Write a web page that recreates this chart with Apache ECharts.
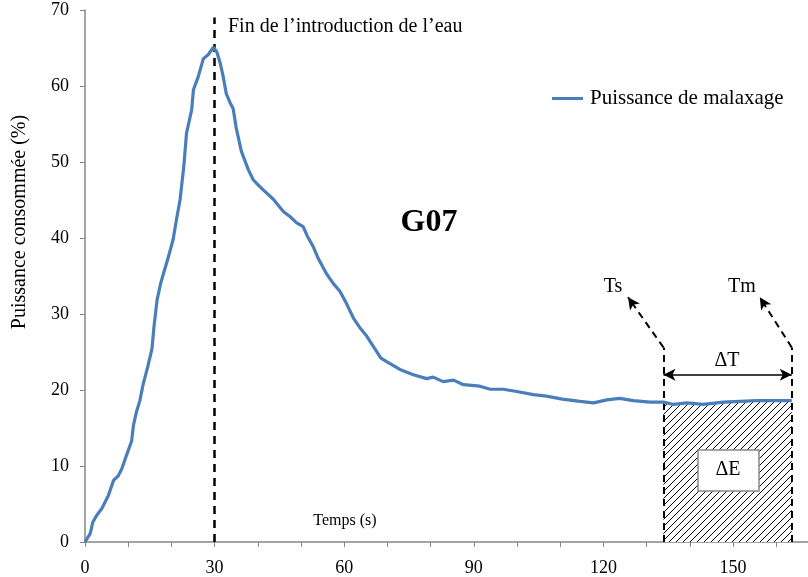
<!DOCTYPE html>
<html>
<head>
<meta charset="utf-8">
<script src="https://cdn.jsdelivr.net/npm/echarts@6/dist/echarts.min.js"></script>
<style>html,body{margin:0;padding:0;background:#fff}#c{width:808px;height:577px}</style>
</head>
<body>
<div id="c"></div>
<script>
// Time (s)
const timeS = [0,1.2,1.8,2.7,3.9,5.4,6.6,7.7,8.5,9.6,10.8,11.2,11.9,12.7,13.4,14.5,15.5,16,16.7,17.5,18.1,19.2,20.4,21.2,22,22.9,23.5,24.7,25.1,26.2,27.4,28.5,29.7,30.5,31.3,32,32.7,33.5,34.3,35,36.2,37.8,38.9,39.7,41.5,43.6,45.9,47.5,49,50.5,51.5,52.8,54,55.9,57.5,59,60.5,62.1,63.5,65.2,67,68.5,70.2,72.9,76,79.1,80.6,82.9,85.3,87.6,91.4,93.8,96.8,99.9,103.8,106.8,110.5,114.6,117.7,120.8,123.8,126.9,130.8,133.9,136.2,139.3,143.1,147.8,151.6,155.5,159.3,163.6];
// Power (%)
const powerPct = [0,1.1,2.6,3.5,4.4,6.1,8.1,8.7,9.6,11.4,13.3,15.3,17.1,18.6,20.6,23,25.4,28.5,31.9,34,35.2,37.3,39.8,42.5,45,49.6,53.8,56.9,59.5,61.2,63.6,64.1,65.1,64.5,63,61.2,59,57.9,57,54.5,51.4,49,47.7,47.2,46.2,45.1,43.5,42.8,42,41.5,40.2,38.9,37.3,35.3,34,33,31.4,29.5,28.3,27.1,25.5,24.2,23.6,22.7,22,21.5,21.7,21.1,21.3,20.7,20.5,20.1,20.1,19.8,19.4,19.2,18.8,18.5,18.3,18.7,18.9,18.6,18.4,18.4,18.1,18.3,18.1,18.4,18.5,18.6,18.6,18.6];
const xTicks = [0,30,60,90,120,150];
const yTicks = [0,10,20,30,40,50,60,70];
const waterEndT = 30;
const tsT = 133.9;
const tmT = 163.6;
const annotTopV = 25.6;
const arrowTipV = 32.2;
const tsTipT = 125.7;
const tmTipT = 156.2;
const dTv = 22.0;

const mainData = timeS.map((t,i)=>[t,powerPct[i]]);
const hatchData = mainData.filter(p=>p[0]>=tsT-0.01);

// hatch pattern
const pc = document.createElement('canvas');
pc.width = 7; pc.height = 7;
const g = pc.getContext('2d');
g.fillStyle = '#fff'; g.fillRect(0,0,7,7);
g.strokeStyle = '#000'; g.lineWidth = 1;
g.beginPath();
g.moveTo(0,7); g.lineTo(7,0);
g.moveTo(-1,1); g.lineTo(1,-1);
g.moveTo(6,8); g.lineTo(8,6);
g.stroke();

const F = '"Liberation Serif","Times New Roman",serif';
const chart = echarts.init(document.getElementById('c'));
chart.setOption({
  animation:false,
  backgroundColor:'#fff',
  grid:{left:85,right:0,top:10,bottom:34,containLabel:false},
  xAxis:{type:'value',min:0,max:167.36,interval:10,
    axisLine:{lineStyle:{color:'#868686',width:1.5}},
    axisTick:{length:5,lineStyle:{color:'#868686'}},
    splitLine:{show:false},
    axisLabel:{fontFamily:F,fontSize:18,color:'#000',margin:17,showMaxLabel:false,
      formatter:v=>xTicks.includes(v)?String(v):''}},
  yAxis:{type:'value',min:0,max:70,interval:10,
    axisLine:{show:true,lineStyle:{color:'#868686',width:1.5}},
    axisTick:{show:true,length:5,lineStyle:{color:'#868686'}},
    splitLine:{show:false},
    axisLabel:{fontFamily:F,fontSize:18,color:'#000',margin:16,
      formatter:v=>yTicks.includes(v)?String(v):''}},
  legend:{show:true,left:547,top:83,itemWidth:31,itemHeight:3,icon:'rect',itemGap:6,
    data:['Puissance de malaxage'],
    textStyle:{fontFamily:F,fontSize:21,color:'#000',padding:[0,0,0,2]}},
  series:[
    {name:'hatch',type:'line',data:hatchData,symbol:'none',z:1,
      lineStyle:{width:0},
      areaStyle:{color:{image:pc,repeat:'repeat'},opacity:1},
      markLine:{silent:true,symbol:'none',label:{show:false},
        lineStyle:{color:'#000',type:[7,5],width:2},
        data:[
          [{coord:[tsT,0]},{coord:[tsT,annotTopV]}],
          [{coord:[tmT,0]},{coord:[tmT,annotTopV]}],
          [{coord:[tsT,annotTopV],symbol:'none'},{coord:[tsTipT,arrowTipV],symbol:'arrow',symbolSize:[9,12]}],
          [{coord:[tmT,annotTopV],symbol:'none'},{coord:[tmTipT,arrowTipV],symbol:'arrow',symbolSize:[9,12]}],
          [{coord:[tsT,dTv],symbol:'arrow',symbolSize:[9,12],lineStyle:{type:'solid',width:1.5}},{coord:[tmT,dTv],symbol:'arrow',symbolSize:[9,12]}],
          [{coord:[waterEndT,0],lineStyle:{type:[8,6],width:2.5}},{coord:[waterEndT,69]}]
        ]}},
    {name:'Puissance de malaxage',type:'line',data:mainData,symbol:'none',z:5,
      color:'#4a7ebb',lineStyle:{color:'#4a7ebb',width:3.2}}
  ],
  graphic:[
    {type:'text',x:20,y:222,rotation:Math.PI/2,style:{text:'Puissance consommée (%)',font:'20px '+F,fill:'#000',textAlign:'center',textVerticalAlign:'middle'}},
    {type:'text',x:345,y:521,style:{text:'Temps (s)',font:'16px '+F,fill:'#000',textAlign:'center',textVerticalAlign:'middle'}},
    {type:'text',x:228,y:27,style:{text:'Fin de l\u2019introduction de l\u2019eau',font:'20px '+F,fill:'#000',textAlign:'left',textVerticalAlign:'middle'}},
    {type:'text',x:429,y:223,style:{text:'G07',font:'bold 32px '+F,fill:'#000',textAlign:'center',textVerticalAlign:'middle'}},
    {type:'text',x:613,y:287,style:{text:'Ts',font:'20px '+F,fill:'#000',textAlign:'center',textVerticalAlign:'middle'}},
    {type:'text',x:742,y:287,style:{text:'Tm',font:'20px '+F,fill:'#000',textAlign:'center',textVerticalAlign:'middle'}},
    {type:'text',x:727,y:361,style:{text:'\u0394T',font:'20px '+F,fill:'#000',textAlign:'center',textVerticalAlign:'middle'}},
    {type:'rect',shape:{x:698,y:450,width:61,height:41},style:{fill:'#fff',stroke:'#888',lineWidth:1.5},z:100},
    {type:'text',x:728,y:470,z:101,style:{text:'\u0394E',font:'20px '+F,fill:'#000',textAlign:'center',textVerticalAlign:'middle'}}
  ]
});
</script>
</body>
</html>
